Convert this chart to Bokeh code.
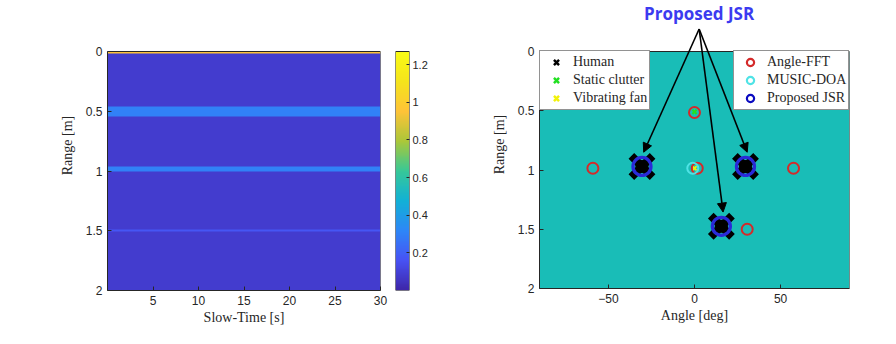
import numpy as np
from bokeh.plotting import figure
from bokeh.models import (Range1d, LinearColorMapper, FixedTicker, Legend, LegendItem,
                          Arrow, NormalHead, Label, ColumnDataSource)
from bokeh.layouts import row
from bokeh.embed import file_html
from bokeh.resources import INLINE

# ---------------- data: range / slow-time map (left) ----------------
slow_time_max = 30.0
range_max = 2.0
range_band_centers = [0.008, 0.50, 0.985, 1.50]
range_band_widths = [0.016, 0.08, 0.04, 0.02]
range_band_levels = [0.95, 0.30, 0.30, 0.17]
background_level = 0.08
time_ticks = [5, 10, 15, 20, 25, 30]
range_ticks = [0, 0.5, 1, 1.5, 2]
colorbar_ticks = [0.2, 0.4, 0.6, 0.8, 1.0, 1.2]
cb_low, cb_high = 0.0, 1.27

# ---------------- data: angle / range map (right) ----------------
angle_min, angle_max = -90.0, 90.0
angle_ticks = [-50, 0, 50]
human_angle = [-30.5, 29.6, 15.6]
human_range = [0.97, 0.97, 1.475]
clutter_angle = [0.0]
clutter_range = [0.51]
fan_angle = [0.0]
fan_range = [0.985]
fft_angle = [-59.0, 57.5, 0.0, 30.6, 1.6]
fft_range = [0.985, 0.985, 0.515, 1.50, 0.985]
music_angle = [-1.0]
music_range = [0.985]
jsr_angle = [-30.5, 29.6, 15.6]
jsr_range = [0.97, 0.97, 1.475]
callout_text = "Proposed JSR"

# ---------------- styling helpers ----------------
FG = "#262626"
SANS = "Liberation Sans"
SERIF = "Liberation Serif"
TOP_H = 51          # white strip above every axes box (call-out lives there on the right)

parula_anchors = [
    (0.2422, 0.1504, 0.6603), (0.2810, 0.3228, 0.9579), (0.1786, 0.5289, 0.9682),
    (0.0689, 0.6948, 0.8394), (0.2161, 0.7843, 0.5923), (0.6720, 0.7793, 0.2227),
    (0.9970, 0.7659, 0.2199), (0.9606, 0.8963, 0.1084), (0.9769, 0.9839, 0.0805)]
anc = np.array(parula_anchors)
pos = np.linspace(0, 1, len(anc))
tt = np.linspace(0, 1, 256)
parula = ["#%02x%02x%02x" % tuple(int(round(255 * np.interp(t, pos, anc[:, k]))) for k in range(3))
          for t in tt]
mapper = LinearColorMapper(palette=parula, low=cb_low, high=cb_high)


def style_axes(p):
    for ax in p.axis:
        ax.axis_line_color = FG
        ax.major_tick_line_color = FG
        ax.minor_tick_line_color = None
        ax.major_tick_in = 4
        ax.major_tick_out = 0
        ax.major_label_text_font = SANS
        ax.major_label_text_font_size = "12px"
        ax.major_label_text_color = FG
        ax.axis_label_text_font = SERIF
        ax.axis_label_text_font_size = "14px"
        ax.axis_label_text_font_style = "normal"
        ax.axis_label_text_color = FG
    p.xgrid.visible = False
    p.ygrid.visible = False
    p.outline_line_color = None
    p.title.visible = False


# ---------------- left figure: heatmap ----------------
AX_H1 = 239
ppu1 = AX_H1 / range_max
n_rows = 400
r = (np.arange(n_rows) + 0.5) * range_max / n_rows
profile = np.full(n_rows, background_level)
for c, w, lv in zip(range_band_centers, range_band_widths, range_band_levels):
    profile[np.abs(r - c) <= w / 2] = lv
img = np.repeat(profile[:, None], 4, axis=1)

p1 = figure(width=388, height=344, frame_width=273, frame_height=AX_H1 + TOP_H, min_border=0,
            min_border_left=107, min_border_right=8, min_border_top=0, min_border_bottom=54,
            x_range=Range1d(0, slow_time_max), y_range=Range1d(range_max, -TOP_H / ppu1),
            output_backend="svg", toolbar_location=None)
p1.image(image=[img], x=0, y=0, dw=slow_time_max, dh=range_max, color_mapper=mapper)
p1.quad(left=[0], right=[slow_time_max], top=[0], bottom=[range_max],
        fill_color=None, line_color=FG, line_width=1)
p1.xaxis.ticker = FixedTicker(ticks=time_ticks)
p1.yaxis.ticker = FixedTicker(ticks=range_ticks)
p1.yaxis.bounds = (0, range_max)
p1.yaxis.major_label_overrides = {t: f"{t:g}" for t in range_ticks}
p1.xaxis.axis_label = "Slow-Time [s]"
p1.yaxis.axis_label = "Range [m]"
style_axes(p1)
p1.xaxis.axis_label_standoff = 2
p1.yaxis.axis_label_standoff = 8

# ---------------- colorbar figure ----------------
ppuc = AX_H1 / (cb_high - cb_low)
grad = np.linspace(cb_low, cb_high, 256)[:, None]
pc = figure(width=72, height=344, frame_width=14, frame_height=AX_H1 + TOP_H, min_border=0,
            min_border_left=7, min_border_right=51, min_border_top=0, min_border_bottom=54,
            x_range=Range1d(0, 1), y_range=Range1d(cb_low, cb_high + TOP_H / ppuc),
            x_axis_location=None, y_axis_location="right",
            output_backend="svg", toolbar_location=None)
pc.image(image=[grad], x=0, y=cb_low, dw=1, dh=cb_high - cb_low, color_mapper=mapper)
pc.quad(left=[0], right=[1], top=[cb_high], bottom=[cb_low],
        fill_color=None, line_color=FG, line_width=1)
pc.yaxis.ticker = FixedTicker(ticks=colorbar_ticks)
pc.yaxis.bounds = (cb_low, cb_high)
pc.yaxis.major_label_overrides = {t: f"{t:g}" for t in colorbar_ticks}
style_axes(pc)
pc.yaxis.axis_line_color = None
pc.yaxis.major_tick_in = 3
pc.yaxis.major_label_standoff = 3
pc.yaxis.major_label_text_font_size = "11px"

# ---------------- right figure: angle-range (frame extended upward for the call-out) ----------------
AX_H = 237
px_per_unit = AX_H / range_max

p2 = figure(width=436, height=344, frame_width=310, frame_height=AX_H + TOP_H, min_border=0,
            min_border_left=79, min_border_right=47, min_border_top=0, min_border_bottom=56,
            x_range=Range1d(angle_min, angle_max),
            y_range=Range1d(range_max, -TOP_H / px_per_unit),
            output_backend="svg", toolbar_location=None)
p2.xaxis.ticker = FixedTicker(ticks=angle_ticks)
p2.yaxis.ticker = FixedTicker(ticks=range_ticks)
p2.yaxis.bounds = (0, range_max)
p2.yaxis.major_label_overrides = {t: f"{t:g}" for t in range_ticks}
p2.xaxis.axis_label = "Angle [deg]"
p2.yaxis.axis_label = "Range [m]"
style_axes(p2)
p2.xaxis.axis_label_standoff = 2
p2.yaxis.axis_label_standoff = 8

# axes box with its (empty-map) background colour
p2.quad(left=[angle_min], right=[angle_max], top=[0], bottom=[range_max],
        fill_color="#19bdb7", line_color=FG, line_width=1)

RED = "#d42a2a"
CYAN = "#4fe3e6"
BLUE = "#2a2ad8"
GREEN = "#22e022"
YELLOW = "#f2f20a"

p2.scatter(human_angle, human_range, marker="circle", size=13, fill_color="black", line_color=None)
p2.scatter(human_angle, human_range, marker="x", size=30, line_color="black", line_width=8)
p2.scatter(clutter_angle, clutter_range, marker="x", size=6, line_color=GREEN, line_width=2)
p2.scatter(fan_angle, fan_range, marker="x", size=6, line_color=YELLOW, line_width=2)
p2.scatter(fft_angle, fft_range, marker="circle", size=11, fill_color=None, line_color=RED, line_width=2)
p2.scatter(music_angle, music_range, marker="circle", size=11, fill_color=None, line_color=CYAN, line_width=2)
p2.scatter(jsr_angle, jsr_range, marker="circle", size=18, fill_color=None, line_color=BLUE, line_width=3.3)

# legend proxies (a single NaN point, so nothing shows in the axes)
def proxy(marker, color, lw):
    src = ColumnDataSource(dict(x=np.array([np.nan]), y=np.array([np.nan])))
    if marker == "x":
        return p2.scatter("x", "y", source=src, marker="x", line_color=color, line_width=lw)
    return p2.scatter("x", "y", source=src, marker="circle", fill_color=None, line_color=color, line_width=lw)

LEG_H = 59
leg_left = Legend(items=[
    LegendItem(label="Human", renderers=[proxy("x", "black", 2.5)]),
    LegendItem(label="Static clutter", renderers=[proxy("x", GREEN, 2.5)]),
    LegendItem(label="Vibrating fan", renderers=[proxy("x", YELLOW, 2.5)]),
], location=(0, AX_H - LEG_H))
leg_right = Legend(items=[
    LegendItem(label="Angle-FFT", renderers=[proxy("o", RED, 2.2)]),
    LegendItem(label="MUSIC-DOA", renderers=[proxy("o", CYAN, 2.2)]),
    LegendItem(label="Proposed JSR", renderers=[proxy("o", "#0a0ac0", 2.2)]),
], location=(310 - 116, AX_H - LEG_H))
for lg in (leg_left, leg_right):
    lg.margin = 0
    lg.padding = 2
    lg.spacing = -3
    lg.glyph_height = 18
    lg.glyph_width = 28
    lg.label_height = 18
    lg.label_standoff = 3
    lg.label_text_font = SERIF
    lg.label_text_font_size = "14px"
    lg.label_text_color = FG
    lg.border_line_color = FG
    lg.border_line_width = 1
    lg.background_fill_color = "white"
    lg.background_fill_alpha = 1.0
    p2.add_layout(lg, "center")

# call-out arrows from the text to the humans
callout_x, callout_y = 2.7, -0.19
for ha, hr in zip(human_angle, human_range):
    p2.add_layout(Arrow(end=NormalHead(size=9, fill_color="black", line_color="black"),
                        x_start=callout_x, y_start=callout_y, x_end=ha + 1.0, y_end=hr - 0.12,
                        line_color="black", line_width=1.6))
p2.add_layout(Label(x=callout_x, y=-(TOP_H - 13) / px_per_unit, text=callout_text,
                    text_align="center", text_baseline="alphabetic", text_font="Open Sans",
                    text_font_style="bold", text_font_size="17px", text_color="#3b3bf0"))

layout = row(p1, pc, p2, spacing=0)
open("out.html", "w").write(file_html(layout, INLINE))
